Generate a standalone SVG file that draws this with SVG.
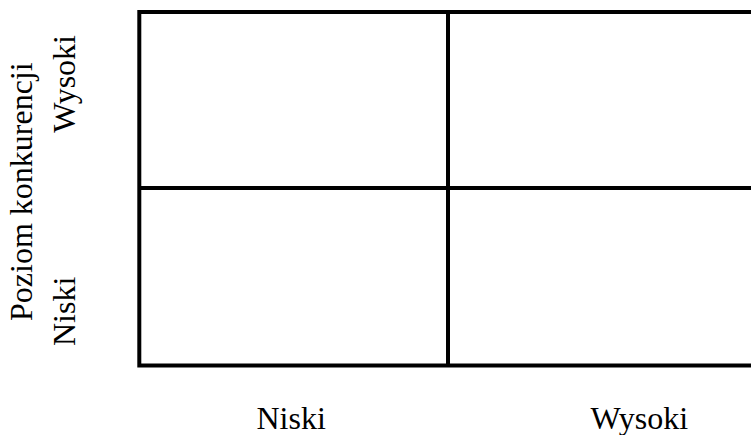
<svg xmlns="http://www.w3.org/2000/svg" width="751" height="435" viewBox="0 0 751 435">
<rect width="751" height="435" fill="#fff"/>
<g id="grid" fill="none" stroke="#000" stroke-width="4">
<path d="M753 12 H139.3 V365.5 H753"/>
<line x1="448" y1="12" x2="448" y2="365.5"/>
<line x1="139.3" y1="188" x2="753" y2="188"/>
</g>
<g id="labels" font-family="Liberation Serif, serif" font-size="32" fill="#000">
<text transform="translate(31.5,321) rotate(-90)">Poziom konkurencji</text>
<text transform="translate(74.5,35) rotate(-90)" text-anchor="end">Wysoki</text>
<text transform="translate(74.5,346) rotate(-90)">Niski</text>
<text x="256.5" y="429">Niski</text>
<text x="590.5" y="429">Wysoki</text>
</g>
</svg>
